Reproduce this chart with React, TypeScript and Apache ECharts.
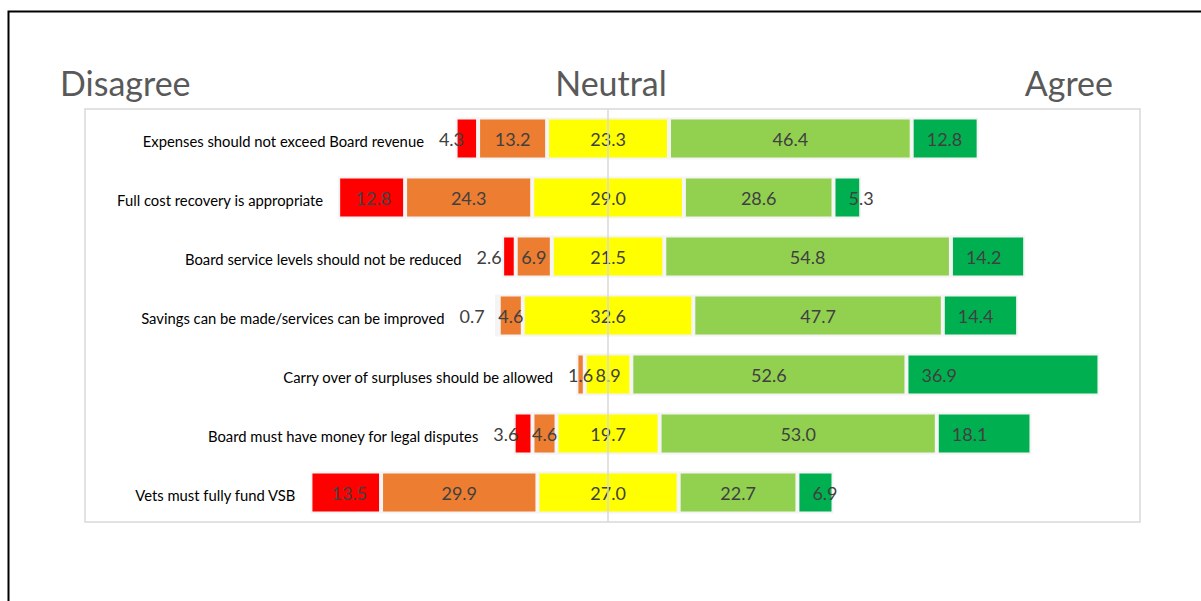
import React, { useEffect, useRef } from "react";
import * as echarts from "echarts";

const categories = [
  "Expenses should not exceed Board revenue",
  "Full cost recovery is appropriate",
  "Board service levels should not be reduced",
  "Savings can be made/services can be improved",
  "Carry over of surpluses should be allowed",
  "Board must have money for legal disputes",
  "Vets must fully fund VSB",
];
const stronglyDisagree = [4.3, 12.8, 2.6, 0.7, 0, 3.6, 13.5];
const disagree = [13.2, 24.3, 6.9, 4.6, 1.6, 4.6, 29.9];
const neutral = [23.3, 29.0, 21.5, 32.6, 8.9, 19.7, 27.0];
const agree = [46.4, 28.6, 54.8, 47.7, 52.6, 53.0, 22.7];
const stronglyAgree = [12.8, 5.3, 14.2, 14.4, 36.9, 18.1, 6.9];
const headers = ["Disagree", "Neutral", "Agree"];

const W = 1201;
const H = 601;
const GRID_LEFT = 85;
const GRID_TOP = 109;
const GRID_W = 1055;
const GRID_H = 413;
const CENTER = 100;
const AXIS_MAX = 201.7;
const PPU = GRID_W / AXIS_MAX;

const FONT = "Lato, 'Open Sans', sans-serif";
const VALUE_FONT_SIZE = 18;
const LABEL_COLOR = "#404040";
const HEADER_SIZE = 34;

function textWidth(t: string, size: number): number {
  const c = document.createElement("canvas").getContext("2d");
  if (!c) return t.length * size * 0.55;
  c.font = `${size}px Lato`;
  return c.measureText(t).width;
}

export default function App() {
  const ref = useRef<HTMLDivElement>(null);
  useEffect(() => {
    if (!ref.current) return;
    const chart = echarts.init(ref.current, undefined, { renderer: "svg" });

    const fmt = (v: number) => (v > 0 ? v.toFixed(1) : "");
    const pad = categories.map((_, i) => {
      const leftUnits = neutral[i] / 2 + disagree[i] + stronglyDisagree[i];
      const redPx = stronglyDisagree[i] * PPU;
      const orangePx = disagree[i] * PPU;
      let overflow = 0;
      if (stronglyDisagree[i] > 0) {
        const w = textWidth(fmt(stronglyDisagree[i]), VALUE_FONT_SIZE);
        overflow = Math.max(overflow, w + 14 - redPx);
      }
      if (disagree[i] > 0) {
        const w = textWidth(fmt(disagree[i]), VALUE_FONT_SIZE);
        overflow = Math.max(overflow, w / 2 - orangePx / 2 - redPx);
      }
      return {
        value: CENTER - leftUnits,
        label: { distance: 15 + Math.max(0, overflow) },
      };
    });

    const border = { borderColor: "#f4f4f4", borderWidth: 2 };
    const mk = (vals: number[]) =>
      vals.map((v) => (v > 0 ? v : { value: 0, itemStyle: { borderWidth: 0 } }));
    const valueLabel = (position: string, distance = 5) => ({
      show: true,
      position,
      distance,
      color: LABEL_COLOR,
      fontSize: VALUE_FONT_SIZE,
      fontFamily: FONT,
      formatter: (p: any) => fmt(typeof p.value === "number" ? p.value : Number(p.value)),
    });

    const seriesDefs = [
      { name: "Strongly disagree", data: stronglyDisagree, color: "#FF0000", label: valueLabel("insideRight", 14) },
      { name: "Disagree", data: disagree, color: "#ED7D31", label: valueLabel("inside") },
      { name: "Neutral", data: neutral, color: "#FFFF00", label: valueLabel("inside") },
      { name: "Agree", data: agree, color: "#92D050", label: valueLabel("inside") },
      { name: "Strongly agree", data: stronglyAgree, color: "#00B050", label: valueLabel("insideLeft", 15) },
    ];

    const series: any[] = [
      {
        name: "pad",
        type: "bar",
        stack: "total",
        barCategoryGap: "29%",
        silent: true,
        itemStyle: { color: "rgba(0,0,0,0)", borderWidth: 0 },
        label: {
          show: true,
          position: "insideRight",
          color: "#000000",
          fontSize: 14.8,
          fontFamily: FONT,
          offset: [0, 2],
          formatter: (p: any) => categories[p.dataIndex],
        },
        data: pad,
      },
      ...seriesDefs.map((s, idx) => ({
        name: s.name,
        type: "bar",
        stack: "total",
        barCategoryGap: "29%",
        itemStyle: { color: s.color, ...border },
        label: s.label,
        data: mk(s.data),
        ...(idx === seriesDefs.length - 1
          ? {
              markLine: {
                silent: true,
                symbol: "none",
                label: { show: false },
                lineStyle: { color: "#d9d9d9", width: 1.5, type: "solid" },
                data: [{ xAxis: CENTER }],
              },
            }
          : {}),
      })),
    ];

    const header = (text: string, x: number, align: string) => ({
      type: "text",
      x,
      y: 82,
      style: { text, fill: "#595959", fontSize: HEADER_SIZE, fontFamily: FONT, align, verticalAlign: "middle" },
    });

    chart.setOption({
      animation: false,
      backgroundColor: "#ffffff",
      grid: {
        left: GRID_LEFT,
        top: GRID_TOP,
        width: GRID_W,
        height: GRID_H,
        show: true,
        borderColor: "#d9d9d9",
        borderWidth: 1.5,
      },
      xAxis: {
        type: "value",
        min: 0,
        max: AXIS_MAX,
        axisLabel: { show: false },
        axisLine: { show: false },
        axisTick: { show: false },
        splitLine: { show: false },
      },
      yAxis: {
        type: "category",
        inverse: true,
        data: categories,
        axisLabel: { show: false },
        axisLine: { show: false },
        axisTick: { show: false },
        splitLine: { show: false },
      },
      graphic: [
        {
          type: "rect",
          shape: { x: 8.5, y: 11.5, width: 1400, height: 800 },
          style: { fill: "none", stroke: "#000000", lineWidth: 2 },
          silent: true,
        },
        header(headers[0], 60, "left"),
        header(headers[1], 611, "center"),
        header(headers[2], 1113, "right"),
      ],
      series,
    });
    return () => chart.dispose();
  }, []);
  return (
    <div
      ref={ref}
      style={{ position: "absolute", left: 0, top: 0, width: W, height: H }}
    />
  );
}
